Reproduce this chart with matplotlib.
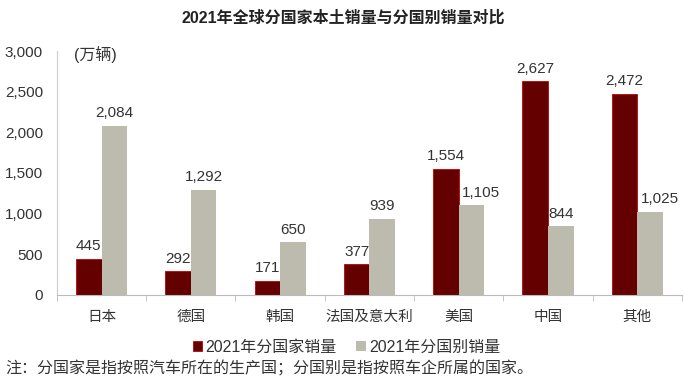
import numpy as np
import matplotlib.pyplot as plt

plt.rcParams['font.family'] = ['Liberation Sans', 'Noto Sans CJK SC', 'DejaVu Sans']

# 数据 (万辆)
categories = ['日本', '德国', '韩国', '法国及意大利', '美国', '中国', '其他']
sales_by_country = [445, 292, 171, 377, 1554, 2627, 2472]
sales_by_brand = [2084, 1292, 650, 939, 1105, 844, 1025]
label_country = '2021年分国家销量'
label_brand = '2021年分国别销量'

RED = '#650000'
GRAY = '#BCBBAE'
TEXT = '#333333'

fig = plt.figure(figsize=(6.86, 3.87), dpi=100)
ax = fig.add_axes([0.083, 0.238, 0.911, 0.630])

x = np.arange(len(categories))
w = 0.286
b1 = ax.bar(x - w / 2, sales_by_country, w, color=RED, edgecolor='#C00000',
            linewidth=0.6, label=label_country)
b2 = ax.bar(x + w / 2, sales_by_brand, w, color=GRAY, label=label_brand)


def add_label(rect, dx=0):
    h = rect.get_height()
    ax.annotate(f'{h:,.0f}', (rect.get_x() + rect.get_width() / 2, h),
                xytext=(dx, 4), textcoords='offset points',
                ha='center', va='bottom', fontsize=11, color=TEXT)


for rect in b1:
    add_label(rect)
for r_red, r_gray in zip(b1, b2):
    # 灰色柱标签若会压到左侧更高的红柱上, 向右挪一点
    shift = r_red.get_height() > r_gray.get_height() and r_gray.get_height() >= 1000
    add_label(r_gray, dx=7 if shift else 0)

ax.set_xlim(-0.5, len(categories) - 0.5)
ax.set_ylim(0, 3000)
ax.set_yticks(range(0, 3001, 500))
ax.set_yticklabels([f'{v:,}' for v in range(0, 3001, 500)])
ax.set_xticks(x)
ax.set_xticklabels(categories)
ax.set_xticks(np.arange(-0.5, len(categories), 1), minor=True)
ax.tick_params(axis='x', which='major', length=0, pad=11, labelsize=10.5, labelcolor=TEXT)
ax.tick_params(axis='x', which='minor', length=4, color='#BBBBBB', direction='out')
ax.tick_params(axis='y', length=0, pad=10, labelsize=11, labelcolor=TEXT)

for side in ['top', 'right']:
    ax.spines[side].set_visible(False)
ax.spines['left'].set_color('#CCCCCC')
ax.spines['bottom'].set_color('#BBBBBB')

ax.text(0.028, 0.985, '(万辆)', transform=ax.transAxes, fontsize=11.5,
        color=TEXT, va='center', ha='left')

fig.text(0.5, 0.955, '2021年全球分国家本土销量与分国别销量对比',
         ha='center', va='center', fontsize=11.5, fontweight='bold', color='#222222')

fig.legend(handles=[b1, b2], loc='center', bbox_to_anchor=(0.505, 0.103), ncol=2,
           frameon=False, fontsize=11.5, handlelength=0.6, handleheight=0.6,
           handletextpad=0.2, columnspacing=1.2, labelcolor=TEXT)

fig.text(0.008, 0.048, '注：分国家是指按照汽车所在的生产国；分国别是指按照车企所属的国家。',
         ha='left', va='center', fontsize=11.5, color=TEXT)

fig.savefig('out.png', dpi=100)
